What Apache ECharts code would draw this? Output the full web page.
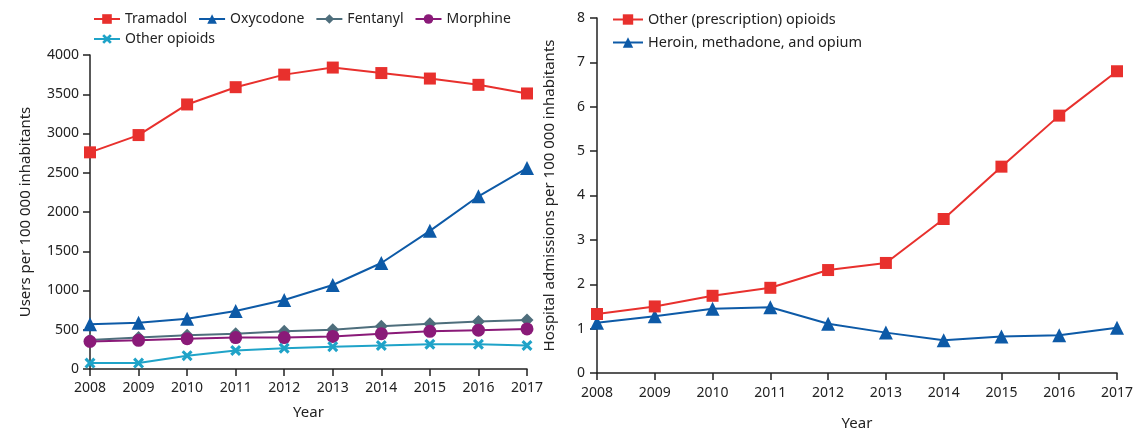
<!DOCTYPE html>
<html>
<head>
<meta charset="utf-8">
<script src="https://cdn.jsdelivr.net/npm/echarts@6/dist/echarts.min.js"></script>
<style>
  html, body { margin: 0; padding: 0; background: #fff; }
  #chart { width: 1144px; height: 431px; }
</style>
</head>
<body>
<div id="chart"></div>
<script>
// Years on both horizontal axes
const years = ['2008', '2009', '2010', '2011', '2012', '2013', '2014', '2015', '2016', '2017'];

// Users per 100 000 inhabitants (left panel)
const tramadol = [2760, 2980, 3370, 3590, 3750, 3840, 3770, 3700, 3620, 3510];
const oxycodone = [570, 590, 640, 740, 880, 1070, 1350, 1760, 2200, 2560];
const fentanyl = [370, 400, 430, 450, 480, 500, 545, 575, 605, 625];
const morphine = [350, 365, 385, 400, 400, 415, 450, 480, 495, 510];
const otherOpioids = [75, 75, 170, 235, 265, 285, 300, 315, 315, 300];

// Hospital admissions per 100 000 inhabitants (right panel)
const otherPrescription = [1.33, 1.50, 1.74, 1.92, 2.32, 2.48, 3.47, 4.65, 5.80, 6.80];
const heroinGroup = [1.13, 1.28, 1.45, 1.48, 1.11, 0.91, 0.74, 0.82, 0.85, 1.02];

// Legend rows
const leftLegendRow1 = ['Tramadol', 'Oxycodone', 'Fentanyl', 'Morphine'];
const leftLegendRow2 = ['Other opioids'];
const rightLegend = ['Other (prescription) opioids', 'Heroin, methadone, and opium'];

const FONT = '"Noto Sans", "Open Sans", sans-serif';
const TXT = '#222';
const crossPath = 'path://M2,0 L5,3 L8,0 L10,2 L7,5 L10,8 L8,10 L5,7 L2,10 L0,8 L3,5 L0,2 Z';

const axisLine = { show: true, lineStyle: { color: '#222', width: 1.5 } };
const axisTick = { show: true, length: 7, lineStyle: { color: '#222', width: 1.5 } };
const axisLabel = { color: TXT, fontSize: 14, fontFamily: FONT };
const titleStyle = { color: TXT, fontSize: 15, fontFamily: FONT };

function xAxis(gridIndex, labelMargin, nameGap) {
  return {
    type: 'category', gridIndex, data: years, boundaryGap: false,
    axisLine, axisTick: Object.assign({ alignWithLabel: true }, axisTick),
    axisLabel: Object.assign({ margin: labelMargin }, axisLabel),
    name: 'Year', nameLocation: 'middle', nameGap,
    nameTextStyle: titleStyle
  };
}

function line(name, data, color, symbol, size, xi, yi) {
  return {
    name, type: 'line', data, xAxisIndex: xi, yAxisIndex: yi,
    symbol, symbolSize: size, showSymbol: true,
    lineStyle: { color, width: 2 },
    itemStyle: { color },
    emphasis: { disabled: true },
    animation: false
  };
}

const legendText = { color: TXT, fontSize: 14, fontFamily: FONT };

const chart = echarts.init(document.getElementById('chart'), null, { renderer: 'canvas' });
chart.setOption({
  backgroundColor: '#fff',
  textStyle: { fontFamily: FONT },
  grid: [
    { left: 90, top: 55, width: 437, height: 314, outerBoundsMode: 'none', containLabel: false },
    { left: 597, top: 18, width: 520, height: 355, outerBoundsMode: 'none', containLabel: false }
  ],
  xAxis: [xAxis(0, 12, 36), xAxis(1, 13, 43)],
  yAxis: [
    {
      type: 'value', gridIndex: 0, min: 0, max: 4000, interval: 500,
      splitLine: { show: false }, axisLine, axisTick,
      axisLabel: Object.assign({ margin: 11, formatter: v => String(v) }, axisLabel),
      name: 'Users per 100 000 inhabitants', nameLocation: 'middle', nameGap: 57,
      nameTextStyle: titleStyle
    },
    {
      type: 'value', gridIndex: 1, min: 0, max: 8, interval: 1,
      splitLine: { show: false }, axisLine, axisTick,
      axisLabel: Object.assign({ margin: 12 }, axisLabel),
      name: 'Hospital admissions per 100 000 inhabitants', nameLocation: 'middle', nameGap: 40,
      nameTextStyle: titleStyle
    }
  ],
  legend: [
    {
      left: 88, top: 7, itemWidth: 26, itemHeight: 12, itemGap: 11,
      textStyle: legendText, data: leftLegendRow1
    },
    {
      left: 88, top: 27, itemWidth: 26, itemHeight: 12, itemGap: 11,
      textStyle: legendText, data: leftLegendRow2
    },
    {
      left: 607, top: 7, orient: 'vertical', itemWidth: 30, itemHeight: 13, itemGap: 8,
      textStyle: { color: TXT, fontSize: 14.5, fontFamily: FONT },
      data: rightLegend
    }
  ],
  series: [
    line('Fentanyl', fentanyl, '#4e6e7c', 'diamond', 13, 0, 0),
    line('Morphine', morphine, '#8a1a78', 'circle', 13, 0, 0),
    line('Other opioids', otherOpioids, '#1fa3c8', crossPath, 11, 0, 0),
    line('Oxycodone', oxycodone, '#0d5aa7', 'triangle', 14, 0, 0),
    line('Tramadol', tramadol, '#e8302d', 'rect', 12, 0, 0),
    line('Heroin, methadone, and opium', heroinGroup, '#0d5aa7', 'triangle', 14, 1, 1),
    line('Other (prescription) opioids', otherPrescription, '#e8302d', 'rect', 12, 1, 1)
  ]
});
</script>
</body>
</html>
